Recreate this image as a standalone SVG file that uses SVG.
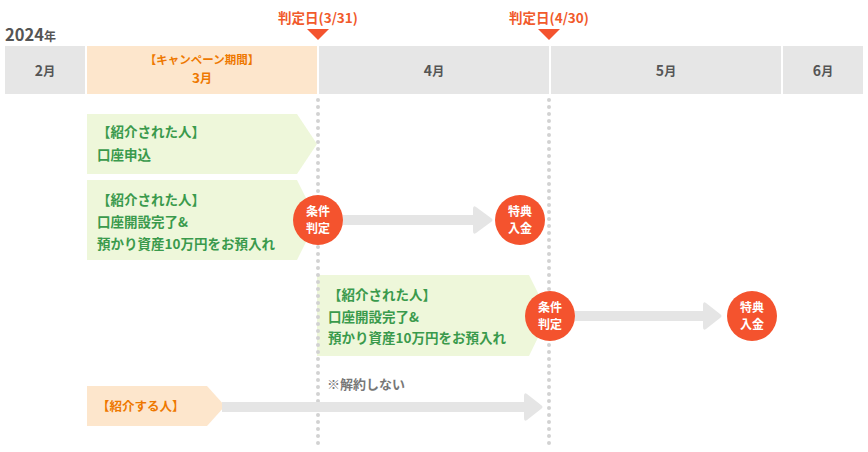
<svg xmlns="http://www.w3.org/2000/svg" width="868" height="452" viewBox="0 0 868 452">
<style>
text{font-family:"Noto Sans CJK JP","Noto Sans",sans-serif;font-weight:bold}
.hd{fill:#e6e6e6}
.mon{fill:#555;font-size:14px;text-anchor:middle}
.jd{fill:#f15a2b;font-size:13.5px;text-anchor:middle}
.gbox{fill:#eef7da}
.gt{fill:#3a9a4c;font-size:13.5px}
.circ{fill:#f4532e}
.ct{fill:#fff;font-size:12px;text-anchor:middle}
.arr{fill:#e5e5e5}
.dot{stroke:#d2d2d2;stroke-width:4;stroke-linecap:round;stroke-dasharray:0 7;fill:none}
</style>
<rect width="868" height="452" fill="#fff"/>
<g id="year"><text x="5" y="41" fill="#555" font-size="16.5">2024<tspan font-size="12">年</tspan></text></g>
<g id="header">
<rect class="hd" x="5" y="46" width="80" height="48"/>
<text class="mon" x="45" y="76">2<tspan font-size="12">月</tspan></text>
<rect x="87" y="46" width="230" height="48" fill="#fde6cc"/>
<text x="202" y="63.5" fill="#ee7800" font-size="11.5" text-anchor="middle">【キャンペーン期間】</text>
<text x="202" y="82.5" fill="#ee7800" font-size="13.5" text-anchor="middle">3<tspan font-size="12">月</tspan></text>
<rect class="hd" x="319" y="46" width="230" height="48"/>
<text class="mon" x="434" y="76">4<tspan font-size="12">月</tspan></text>
<rect class="hd" x="551" y="46" width="230" height="48"/>
<text class="mon" x="666" y="76">5<tspan font-size="12">月</tspan></text>
<rect class="hd" x="783" y="46" width="80" height="48"/>
<text class="mon" x="823" y="76">6<tspan font-size="12">月</tspan></text>
</g>
<g id="judge1">
<text class="jd" x="318" y="23">判定日(3/31)</text>
<polygon points="307,29 329,29 318,40" fill="#f4532e"/>
</g>
<g id="judge2">
<text class="jd" x="549" y="23">判定日(4/30)</text>
<polygon points="538,29 560,29 549,40" fill="#f4532e"/>
</g>
<g id="box1">
<polygon class="gbox" points="87,114 297,114 317,144 297,174 87,174"/>
<text class="gt" x="97" y="137">【紹介された人】</text>
<text class="gt" x="97" y="160">口座申込</text>
</g>
<g id="box2">
<polygon class="gbox" points="87,180 297,180 317,220 297,260 87,260"/>
<text class="gt" x="97" y="205">【紹介された人】</text>
<text class="gt" x="97" y="227">口座開設完了&amp;</text>
<text class="gt" x="97" y="249">預かり資産10万円をお預入れ</text>
</g>
<g id="box3">
<polygon class="gbox" points="317,275 529,275 549,315 529,356 317,356"/>
<text class="gt" x="328" y="300">【紹介された人】</text>
<text class="gt" x="328" y="322">口座開設完了&amp;</text>
<text class="gt" x="328" y="343">預かり資産10万円をお預入れ</text>
</g>
<g id="box4">
<polygon points="87,386 207,386 225,406 207,426 87,426" fill="#fde6cc"/>
<text x="97" y="411" fill="#ee7800" font-size="12.5">【紹介する人】</text>
</g>
<g id="grid">
<line class="dot" x1="318" y1="100" x2="318" y2="444"/>
<line class="dot" x1="549" y1="100" x2="549" y2="444"/>
</g>
<g id="connectors">
<path class="arr" d="M343,215 H473 V209 Q473,205 476,207 L491,218 Q494,220 491,222 L476,233 Q473,235 473,231 V225 H343 Z"/>
<path class="arr" d="M575,311 H703 V305 Q703,301 706,303 L720,314 Q723,316 720,318 L706,329 Q703,331 703,327 V321 H575 Z"/>
<path class="arr" d="M222,402 H524 V396 Q524,392 527,394 L541,405 Q544,407 541,409 L527,420 Q524,422 524,418 V412 H222 Z"/>
<text x="327" y="389" fill="#777" font-size="13" font-weight="normal">※解約しない</text>
</g>
<g id="c1"><circle class="circ" cx="318" cy="220" r="25"/><text class="ct" x="318" y="215.5">条件</text><text class="ct" x="318" y="233">判定</text></g>
<g id="c2"><circle class="circ" cx="520" cy="220" r="25"/><text class="ct" x="520" y="215.5">特典</text><text class="ct" x="520" y="233">入金</text></g>
<g id="c3"><circle class="circ" cx="550" cy="316" r="25"/><text class="ct" x="550" y="311.5">条件</text><text class="ct" x="550" y="329">判定</text></g>
<g id="c4"><circle class="circ" cx="752" cy="316" r="25"/><text class="ct" x="752" y="311.5">特典</text><text class="ct" x="752" y="329">入金</text></g>
</svg>
